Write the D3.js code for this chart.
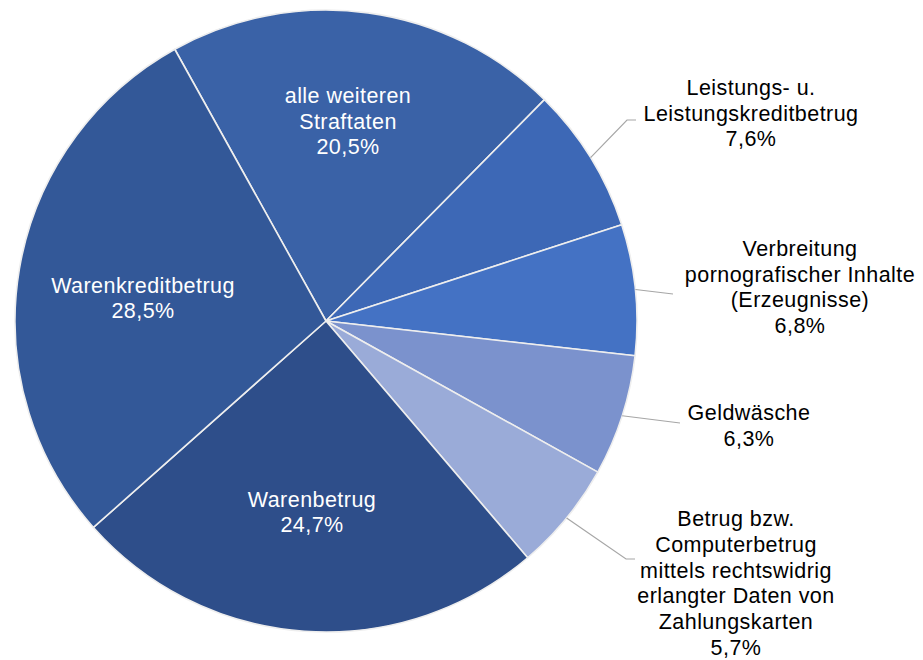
<!DOCTYPE html>
<html>
<head>
<meta charset="utf-8">
<script src="https://cdn.jsdelivr.net/npm/d3@7"></script>
<style>
    html, body { margin: 0; padding: 0; background: #fff; }
    svg { display: block; font-family: "Liberation Sans", Arial, sans-serif; }
</style>
</head>
<body>
<svg id="chart" width="923" height="660"></svg>
<script>
// Daten (Anteile in %)
var categories = [
    "alle weiteren Straftaten",
    "Leistungs- u. Leistungskreditbetrug",
    "Verbreitung pornografischer Inhalte (Erzeugnisse)",
    "Geldwäsche",
    "Betrug bzw. Computerbetrug mittels rechtswidrig erlangter Daten von Zahlungskarten",
    "Warenbetrug",
    "Warenkreditbetrug"
];
var values = [20.5, 7.6, 6.8, 6.3, 5.7, 24.7, 28.5];

// Zeilenumbruch der Beschriftungen
var labelLines = [
    ["alle weiteren", "Straftaten"],
    ["Leistungs- u.", "Leistungskreditbetrug"],
    ["Verbreitung", "pornografischer Inhalte", "(Erzeugnisse)"],
    ["Geldwäsche"],
    ["Betrug bzw.", "Computerbetrug", "mittels rechtswidrig", "erlangter Daten von", "Zahlungskarten"],
    ["Warenbetrug"],
    ["Warenkreditbetrug"]
];

var colors = ["#3a62a7", "#3d68b6", "#4472c4", "#7b92cd", "#9aabd8", "#2e4e8a", "#335898"];

// Layout
var CONFIG = {
    "cx": 326,
    "cy": 321,
    "radius": 311,
    "start": -29.1,      // Grad, im Uhrzeigersinn ab 12 Uhr
    "font_size": 21.5,
    "letter_spacing": 0.45,
    "line_height": 25.8
};

// Beschriftungsposition: x, y = Mitte des Textblocks; leader = Knick- und Endpunkt
var labelLayout = [
    { inside: true,  x: 348, y: 121 },
    { inside: false, x: 751, y: 113, leader: [[627, 120], [636, 120]] },
    { inside: false, x: 800, y: 287, leader: [[673, 294]] },
    { inside: false, x: 749, y: 425.5, leader: [[680, 423]] },
    { inside: false, x: 736, y: 583, leader: [[626, 559], [635, 559]] },
    { inside: true,  x: 312, y: 512 },
    { inside: true,  x: 143, y: 298 }
];

var fmt = function (v) { return v.toFixed(1).replace(".", ",") + "%"; };

var svg = d3.select("#chart");
var g = svg.append("g")
    .attr("transform", "translate(" + CONFIG.cx + "," + CONFIG.cy + ")");

var a0 = CONFIG.start * Math.PI / 180;
var pie = d3.pie().sort(null).startAngle(a0).endAngle(a0 + 2 * Math.PI);
var arcs = pie(values);

var arc = d3.arc().innerRadius(0).outerRadius(CONFIG.radius);

g.selectAll("path.slice")
    .data(arcs)
    .enter().append("path")
    .attr("class", "slice")
    .attr("d", arc)
    .attr("fill", function (d, i) { return colors[i]; })
    .attr("stroke", "#eeeeee")
    .attr("stroke-width", 1.6)
    .attr("stroke-linejoin", "round");

// Führungslinien
var line = d3.line();
arcs.forEach(function (d, i) {
    var lay = labelLayout[i];
    if (lay.inside) return;
    var mid = (d.startAngle + d.endAngle) / 2;
    var p0 = [CONFIG.cx + CONFIG.radius * Math.sin(mid), CONFIG.cy - CONFIG.radius * Math.cos(mid)];
    svg.append("path")
        .attr("d", line([p0].concat(lay.leader)))
        .attr("fill", "none")
        .attr("stroke", "#a6a6a6")
        .attr("stroke-width", 1.2);
});

// Beschriftungen
arcs.forEach(function (d, i) {
    var lay = labelLayout[i];
    var lines = labelLines[i].concat([fmt(values[i])]);
    var n = lines.length;
    var text = svg.append("text")
        .attr("text-anchor", "middle")
        .attr("font-size", CONFIG.font_size)
        .attr("letter-spacing", CONFIG.letter_spacing)
        .attr("fill", lay.inside ? "#ffffff" : "#000000");
    lines.forEach(function (t, k) {
        var yc = lay.y + (k - (n - 1) / 2) * CONFIG.line_height;
        text.append("tspan")
            .attr("x", lay.x)
            .attr("y", yc)
            .attr("dy", "0.35em")
            .text(t);
    });
});
</script>
</body>
</html>
